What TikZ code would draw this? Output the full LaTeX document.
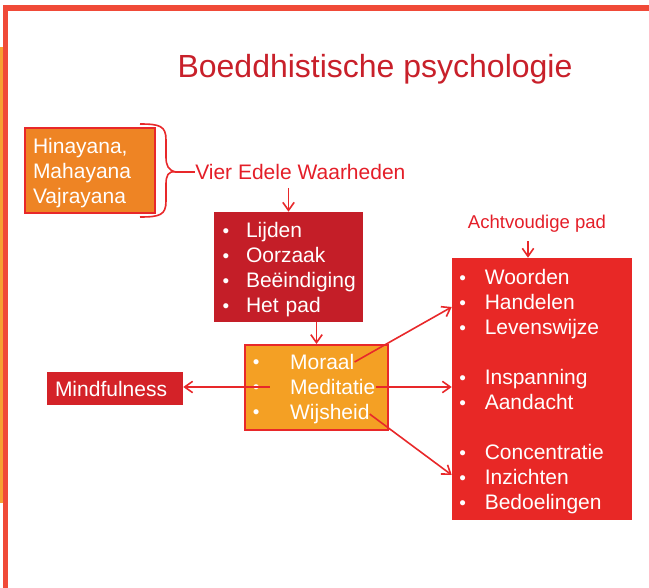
\documentclass[tikz,border=0pt]{standalone}
\usepackage{fontspec}
\setmainfont{Liberation Sans}
\usepackage{tikz}
\usetikzlibrary{arrows.meta}

\definecolor{framered}{RGB}{240,74,56}
\definecolor{stripe}{RGB}{247,160,50}
\definecolor{titlered}{RGB}{200,32,42}
\definecolor{textred}{RGB}{228,30,40}
\definecolor{arrred}{RGB}{232,40,42}
\definecolor{hinafill}{RGB}{238,132,36}
\definecolor{lijdenfill}{RGB}{196,30,40}
\definecolor{moraalfill}{RGB}{244,160,36}
\definecolor{mindfill}{RGB}{212,34,40}
\definecolor{padfill}{RGB}{232,40,38}

\newcommand\boxfont{\fontsize{15.75}{18.75}\selectfont}
\newcommand\titlefont{\fontsize{24}{28}\selectfont}
\newcommand\labelfont{\fontsize{13.9}{16}\selectfont}
\newcommand\toppad{\rule{0pt}{16pt}}
\newcommand\bulitem[2][17.6pt]{\makebox[#1][l]{\raisebox{0.05ex}{\scalebox{0.9}{\textbullet}}}#2}

\begin{document}
\begin{tikzpicture}[x=0.75pt,y=-0.75pt,
  every node/.style={font=\boxfont},
  box/.style={align=left, text=white, inner ysep=2pt},
  redtext/.style={text=textred, inner sep=0pt},
  item/.style={text=white, inner sep=0pt},
  arr/.style={draw=arrred, line width=1.2pt, -{Straight Barb[length=6pt,width=8.5pt]}},
  brace/.style={draw=arrred, line width=1.2pt}]
\useasboundingbox (0,0) rectangle (649,588);
% Frame
\fill[framered] (3,5) rectangle (649,11);
\fill[framered] (3,5) rectangle (8,588);
\fill[stripe] (0,47) rectangle (3,503);
% Title
\node[text=titlered, font=\titlefont, inner sep=0pt, anchor=base] (title) at (375,77.5) {Boeddhistische psychologie};
% Schools and the four truths
\node[box, fill=hinafill, draw=arrred, line width=1.5pt, inner xsep=6pt, text width=85.5pt, minimum width=97.5pt, minimum height=63.75pt] (hina) at (90,170.5) {\toppad Hinayana,\\Mahayana\\Vajrayana};
\node[redtext, anchor=base west] (vier) at (195,179.5) {Vier Edele Waarheden};
\coordinate (bracetip) at ([xshift=-14.25pt]vier.west);
\draw[brace] (140,124) .. controls (160,124) and (166,126) .. (166,140) -- (166,157) .. controls (166,165) and (168,170.5) .. (bracetip);
\draw[brace] (140,217) .. controls (160,217) and (166,215) .. (166,201) -- (166,184) .. controls (166,176) and (168,170.5) .. (bracetip);
\draw[brace] (bracetip) -- (vier.west);
\node[box, fill=lijdenfill, inner xsep=6.4pt, text width=98.95pt, minimum width=111.75pt, minimum height=82.5pt] (lijden) at (288.5,267)
  {\toppad\bulitem{Lijden}\\\bulitem{Oorzaak}\\\bulitem{Beëindiging}\\\bulitem{Het pad}};
\draw[arr, shorten <=6pt] (vier.south -| lijden.north) -- (lijden.north);
% Training
\node[fill=moraalfill, draw=arrred, line width=1.5pt, minimum width=107.25pt, minimum height=63.75pt] (training) at (316.5,387.5) {};
\node[item, anchor=base west] (moraal) at (252.5,369.5) {\bulitem[28pt]{Moraal}};
\node[item, anchor=base west] (meditatie) at (252.5,394.5) {\bulitem[28pt]{Meditatie}};
\node[item, anchor=base west] (wijsheid) at (252.5,419.5) {\bulitem[28pt]{Wijsheid}};
\draw[arr] (lijden.south -| training.north) -- (training.north);
% Mindfulness
\node[box, fill=mindfill, inner xsep=6pt, text width=90pt, minimum width=102pt, minimum height=24.75pt] (mind) at (115,388.5) {Mindfulness};
\draw[arr] ([xshift=12.75pt]meditatie.west) -- (mind.east |- meditatie.west);
% Eightfold path
\node[redtext, font=\labelfont, anchor=base] (padlabel) at (537,228) {Achtvoudige pad};
\node[box, fill=padfill, inner xsep=5.6pt, text width=123.8pt, minimum width=135pt, minimum height=196.5pt] (pad) at (542,389)
  {\toppad\bulitem[19pt]{Woorden}\\\bulitem[19pt]{Handelen}\\\bulitem[19pt]{Levenswijze}\\[18.75pt]
   \bulitem[19pt]{Inspanning}\\\bulitem[19pt]{Aandacht}\\[18.75pt]
   \bulitem[19pt]{Concentratie}\\\bulitem[19pt]{Inzichten}\\\bulitem[19pt]{Bedoelingen}};
\draw[arr, shorten <=6.75pt] ([xshift=-6.75pt]padlabel.south) -- ([xshift=-6.75pt]padlabel.south |- pad.north);
\draw[arr] (moraal.east) -- ([yshift=61.5pt]pad.west);
\draw[arr] (meditatie.east) -- (meditatie.east -| pad.west);
\draw[arr] (wijsheid.east) -- ([yshift=-64.5pt]pad.west);
\end{tikzpicture}
\end{document}
